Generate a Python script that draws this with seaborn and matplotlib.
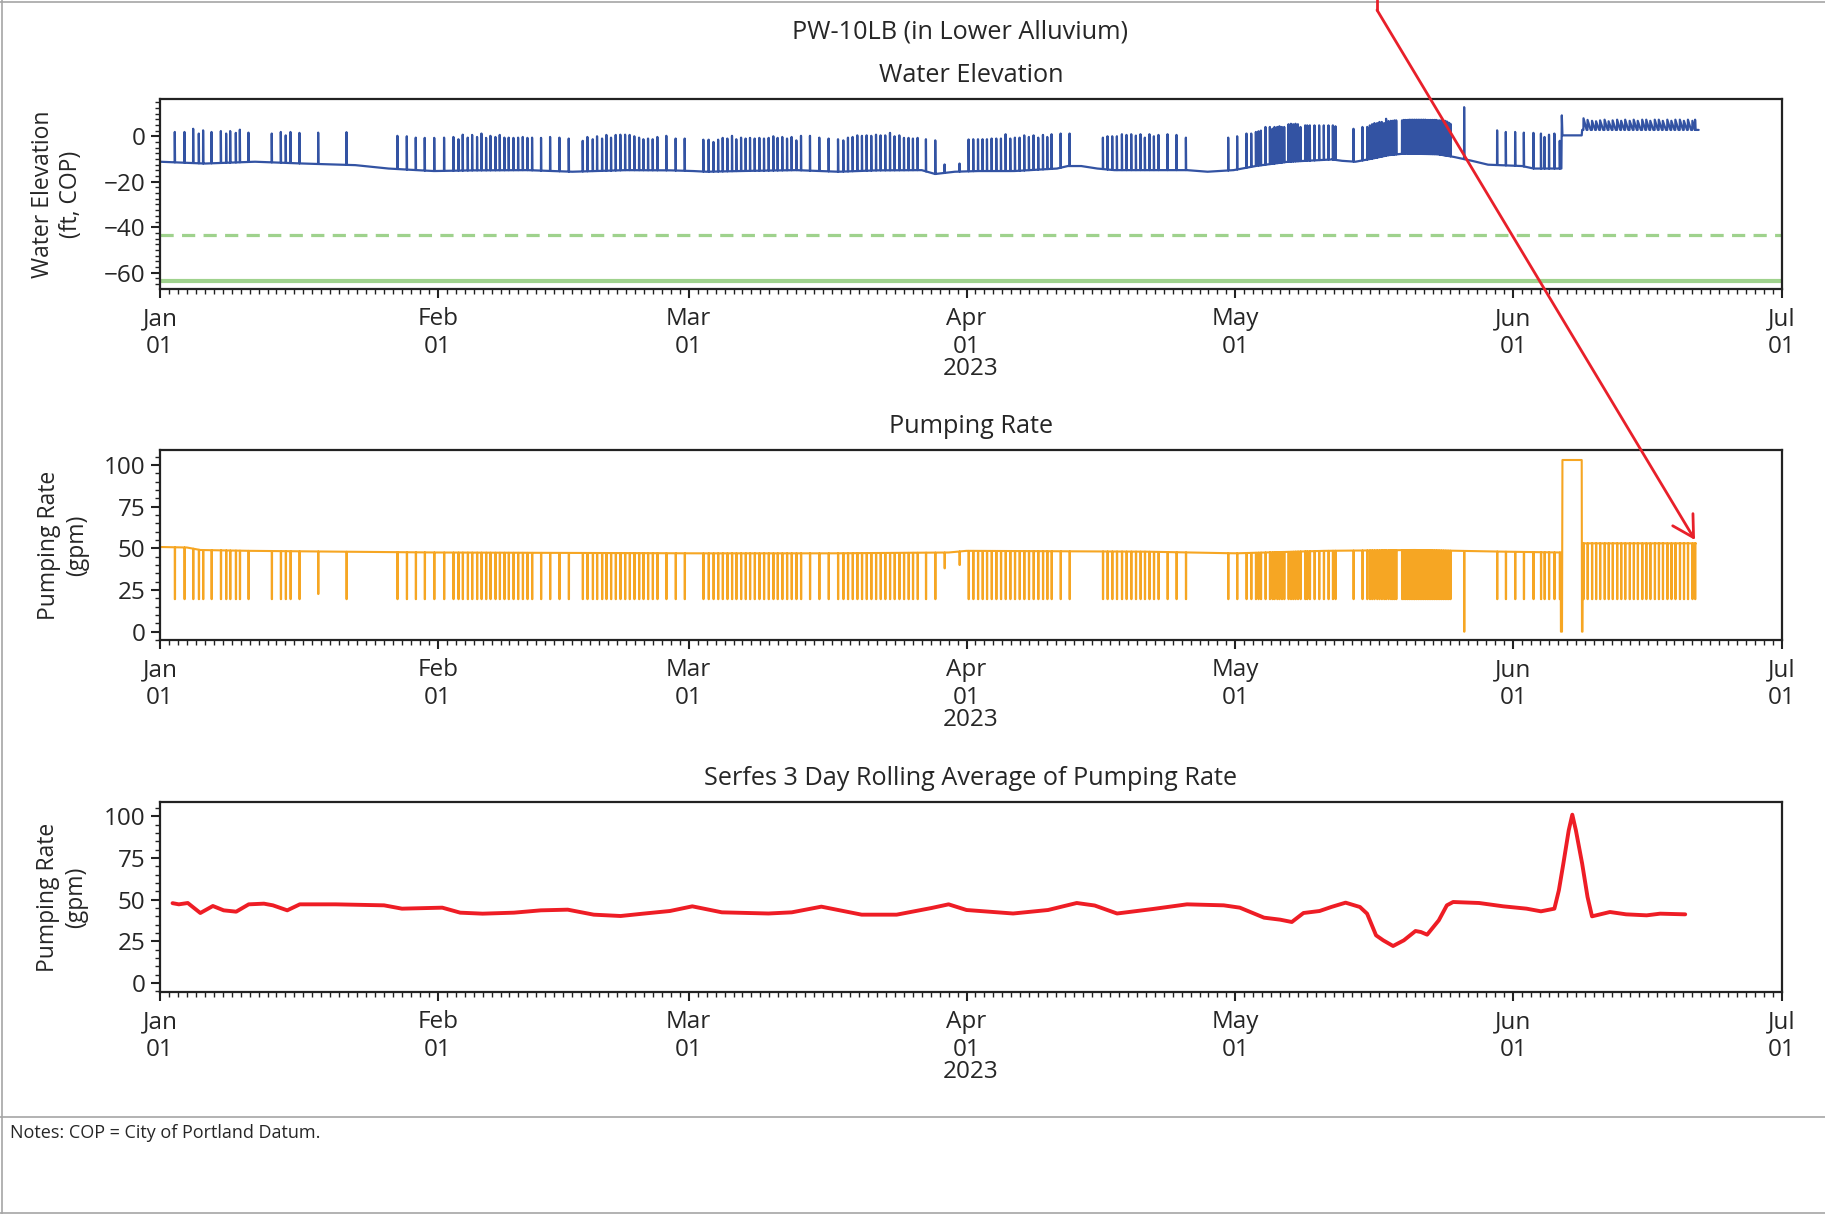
import numpy as np
import pandas as pd
import matplotlib
matplotlib.use("Agg")
import matplotlib.pyplot as plt
import matplotlib.dates as mdates
from matplotlib.ticker import MultipleLocator
from matplotlib.lines import Line2D
from matplotlib.patches import FancyArrowPatch
import seaborn as sns

# ─────────────────────────────────────────────
# DATA (days after 2023-01-01 00:00)
# ─────────────────────────────────────────────
START = pd.Timestamp("2023-01-01")

# pump-off events: water spikes up, pumping rate drops
ev_jan = [1.65, 2.73, 3.70, 4.33, 4.81, 5.75, 6.79, 7.38, 7.83, 8.46, 8.91, 9.87,
          12.47, 13.48, 14.03, 14.56, 15.56, 17.65, 20.81, 26.49, 27.54, 28.54, 29.54, 30.60]
pk_jan = [1.9, 1.9, 3.3, 1.2, 2.6, 1.9, 2.3, 1.2, 2.3, 1.5, 2.9, 1.6,
          1.2, 1.9, 0.4, 1.9, 1.5, 1.6, 1.8, 0.2, 0.0, -0.6, -0.7, -0.7]
lo_jan = [19.5, 19.5, 19.5, 19.5, 19.5, 19.5, 19.5, 19.5, 19.5, 19.5, 19.5, 19.5,
          19.5, 19.5, 19.5, 19.5, 19.5, 22.6, 19.5, 19.5, 19.5, 19.5, 19.5, 19.5]

ev_feb = [31.70, 32.74, 33.30, 33.78, 34.34, 34.83, 35.38, 35.87, 36.39, 36.87,
          37.43, 37.91, 38.43, 38.91, 39.44, 39.96, 40.48, 41.00, 41.52, 42.52,
          43.53, 44.57, 45.61, 47.17, 47.69, 48.29, 48.77, 49.33, 49.81, 50.33,
          50.85, 51.37, 51.90, 52.41, 52.93, 53.46, 53.94, 54.46, 54.98, 55.50,
          56.50, 57.54, 58.55]
pk_feb = [-0.6, -0.3, -1.3, 0.7, -0.6, 0.6, -0.3, 1.2, -0.7, 0.2,
          -0.3, 0.6, -0.6, -0.6, -0.7, -0.6, -0.3, -0.7, -0.6, -0.7,
          -0.3, -0.6, -1.0, -2.0, -0.3, -1.3, 0.0, -1.0, 0.6, -0.6,
          0.6, 0.7, 0.7, 0.6, 0.0, -0.6, -1.3, -1.0, -1.3, -0.3,
          0.2, -1.0, -1.0]

ev_mar = [60.63, 61.22, 61.76, 62.28, 62.79, 63.31, 63.83, 64.31, 64.84, 65.35,
          65.84, 66.36, 66.88, 67.40, 67.92, 68.44, 68.92, 69.44, 69.97, 70.48,
          71.01, 71.53, 72.53, 73.57, 74.61, 75.66, 76.25, 76.77, 77.29, 77.81,
          78.33, 78.85, 79.37, 79.90, 80.41, 80.93, 81.46, 81.97, 82.50, 83.02,
          83.53, 84.02, 84.54, 85.47, 86.51, 87.55, 89.22]
pk_mar = [-1.5, -1.5, -2.5, -1.5, -0.7, -1.0, 0.2, -1.3, -0.6, -1.0,
          -0.7, -1.0, -0.7, -1.0, -0.7, 0.0, -0.7, -0.3, -1.0, -0.3,
          -1.8, 0.2, 0.2, -0.6, -1.0, -1.3, -1.8, -0.6, -0.3, 0.4,
          0.2, 0.4, 0.2, 0.7, 0.4, 0.4, 1.5, 0.0, 0.4, -0.7,
          -0.7, -1.0, -0.7, -1.3, -1.8, -12.4, -12.0]

ev_apr = [90.23, 90.75, 91.28, 91.79, 92.28, 92.80, 93.32, 93.84, 94.36, 94.88,
          95.40, 95.92, 96.44, 96.96, 97.48, 98.00, 98.53, 99.01, 99.49, 100.50,
          101.50, 105.22, 105.73, 106.26, 106.78, 107.34, 107.85, 108.38, 108.90, 109.41,
          109.90, 110.41, 110.91, 111.42, 112.43, 113.43, 114.48, 119.20]
pk_apr = [-1.4, -1.3, -1.3, -1.3, -1.3, -1.0, -1.0, -1.0, 0.9, -1.0,
          -0.6, -0.6, 0.4, -0.3, 0.4, -0.6, 0.6, -0.3, 0.9, 1.2,
          1.2, -0.6, 0.0, 0.0, 0.0, 0.9, 0.6, 0.9, 0.3, 0.9,
          -0.6, 0.9, 0.0, 0.6, 0.9, 0.6, -0.6, -0.6]

ev_may = [120.20, 121.24, 121.77, 122.29, 122.58, 122.85, 123.36, 123.85, 124.14, 124.37,
          124.67, 124.92, 125.19, 125.45, 125.93, 126.20, 126.45, 126.71, 126.98, 127.27,
          127.79, 128.02, 128.31, 128.83, 129.35, 129.87, 130.39, 130.88, 131.17, 133.18,
          134.18, 134.71, 135.01, 135.26, 135.52, 135.82, 136.08, 136.34, 136.60, 136.82,
          137.09, 137.35, 137.55, 137.75, 137.95, 138.60, 138.80, 139.00, 139.20, 139.40,
          139.60, 139.80, 140.00, 140.20, 140.40, 140.60, 140.80, 141.00, 141.20, 141.40,
          141.60, 141.80, 142.00, 142.20, 142.40, 142.60, 142.80, 143.00, 143.20, 143.40,
          143.60, 143.80, 144.00, 145.53]
pk_may = [0.0, 1.2, 1.2, 1.9, 2.2, 2.5, 4.1, 4.1, 3.3, 4.1,
          4.1, 4.4, 4.1, 4.1, 5.3, 5.5, 5.3, 5.5, 5.3, 4.1,
          4.8, 4.8, 4.8, 4.8, 4.8, 4.8, 4.8, 4.8, 4.4, 3.3,
          4.1, 4.1, 4.8, 5.3, 5.8, 5.8, 6.3, 6.3, 5.8, 7.7,
          6.7, 6.8, 6.8, 7.0, 7.0, 7.0, 7.2, 7.2, 7.2, 7.3,
          7.3, 7.3, 7.3, 7.3, 7.3, 7.3, 7.3, 7.3, 7.3, 7.2,
          7.2, 7.2, 7.2, 7.2, 7.2, 7.0, 7.0, 7.0, 6.8, 6.8,
          6.5, 6.0, 5.5, 12.8]
lo_may = [19.5, 19.5, 19.5, 19.5, 19.5, 19.5, 19.5, 19.5, 19.5, 19.5,
          19.5, 19.5, 19.5, 19.5, 19.5, 19.5, 19.5, 19.5, 19.5, 19.5,
          19.5, 19.5, 19.5, 19.5, 19.5, 19.5, 19.5, 19.5, 19.5, 19.5,
          19.5, 19.5, 19.5, 19.5, 19.5, 19.5, 19.5, 19.5, 19.5, 19.5,
          19.5, 19.5, 19.5, 19.5, 19.5, 19.5, 19.5, 19.5, 19.5, 19.5,
          19.5, 19.5, 19.5, 19.5, 19.5, 19.5, 19.5, 19.5, 19.5, 19.5,
          19.5, 19.5, 19.5, 19.5, 19.5, 19.5, 19.5, 19.5, 19.5, 19.5,
          19.5, 19.5, 19.5, 0.0]

ev_jun = [149.21, 150.18, 151.22, 152.19, 153.26, 154.10, 154.50, 155.00, 155.60, 156.20]
pk_jun = [2.6, 1.9, 1.9, 1.6, 1.5, 1.2, -0.3, 0.7, 1.2, -2.0]

# after the restart on Jun 08: water saw-tooths, pump cycles
ev_late = [158.85, 159.30, 159.80, 160.25, 160.70, 161.20, 161.65, 162.10, 162.60, 163.05,
           163.50, 164.00, 164.45, 164.90, 165.40, 165.85, 166.30, 166.80, 167.25, 167.70,
           168.20, 168.65, 169.10, 169.60, 170.05, 170.50, 171.00, 171.30]
pk_late = [7.9, 7.2, 6.8, 6.6, 7.0, 7.3, 6.6, 7.0, 7.3, 6.8,
           7.3, 6.8, 7.3, 6.8, 7.3, 7.3, 6.8, 7.3, 7.3, 6.8,
           7.3, 6.8, 7.3, 7.3, 6.8, 7.3, 6.8, 7.3]

# water elevation between pump-off events (ft, COP)
base_day = [0.0, 5.0, 10.6, 16.0, 21.8, 25.5, 30.5, 35.0, 41.0, 46.0, 52.0, 57.0, 59.5, 61.0,
            66.0, 71.0, 75.7, 80.0, 85.0, 86.5, 88.7, 91.3, 95.3, 100.1, 101.3, 102.8, 104.6,
            106.5, 110.0, 114.6, 116.9, 119.8, 122.4, 125.9, 130.8, 131.9, 133.4, 135.3,
            137.1, 138.9, 142.6, 144.4, 146.4, 148.2, 152.0, 153.3, 156.38,
            156.40, 156.43, 156.50, 158.65, 158.70, 171.70]
base_elev = [-11.2, -12.0, -11.2, -12.0, -12.7, -14.2, -15.3, -15.0, -14.9, -15.6, -14.9, -15.0,
             -15.3, -15.6, -15.2, -14.9, -15.6, -15.0, -14.9, -16.6, -15.6, -15.3, -15.3, -14.2,
             -13.1, -13.1, -14.2, -14.9, -14.9, -14.9, -15.6, -14.9, -13.0, -11.2, -10.2, -10.8,
             -11.2, -9.8, -8.3, -7.6, -7.9, -9.1, -10.8, -12.5, -13.1, -14.2, -14.2,
             -3.0, 9.2, 0.4, 0.4, 2.8, 2.8]

# pumping rate between events (gpm)
rate_day = [0.0, 3.0, 4.5, 10.0, 20.0, 31.0, 60.0, 75.0, 88.0, 90.0, 110.0, 120.0, 130.0,
            140.0, 150.0, 156.30, 156.33, 156.45, 156.50, 158.65, 158.68, 158.74, 158.78, 171.40]
rate_gpm = [50.8, 50.5, 49.0, 48.5, 48.0, 47.5, 47.0, 47.0, 47.5, 48.5, 48.0, 47.0, 48.5,
            49.0, 48.0, 47.5, 0.0, 0.0, 103.0, 103.0, 0.0, 0.0, 53.0, 53.0]

# Serfes 3-day rolling average (gpm)
roll_day = [1.4, 2.1, 3.1, 4.5, 5.9, 7.1, 8.5, 9.9, 11.6, 12.6, 14.2, 15.6, 19.6, 25.0, 27.0,
            31.5, 33.5, 36.0, 39.5, 42.5, 45.5, 48.4, 51.4, 53.9, 56.9, 59.4, 62.7, 67.9, 70.5,
            73.8, 78.3, 82.2, 86.1, 88.0, 90.0, 95.2, 99.1, 102.3, 104.3, 106.8, 110.8, 114.6,
            118.7, 120.5, 123.2, 125.0, 126.3, 127.6, 129.4, 130.7, 132.3, 133.9, 134.7, 135.7,
            136.5, 137.6, 138.8, 140.1, 140.7, 141.4, 142.7, 143.6, 144.3, 147.2, 149.9, 152.5,
            154.1, 155.6, 156.1, 156.6, 157.2, 157.6, 158.0, 158.7, 159.3, 159.8, 161.8, 163.6,
            165.9, 167.4, 170.2]
roll_gpm = [47.9, 47.2, 48.0, 42.0, 46.2, 43.6, 42.8, 47.2, 47.6, 46.6, 43.6, 47.2, 47.2, 46.6,
            44.6, 45.2, 42.2, 41.6, 42.2, 43.6, 44.0, 41.0, 40.2, 41.6, 43.2, 46.0, 42.4, 41.7,
            42.4, 45.8, 41.0, 41.0, 45.0, 47.2, 43.8, 41.7, 43.8, 48.0, 46.5, 41.7, 44.4, 47.2,
            46.6, 45.2, 39.2, 38.0, 36.6, 42.0, 43.2, 45.6, 48.2, 45.6, 41.6, 28.6,
            25.6, 22.2, 25.6, 31.2, 30.6, 29.0, 37.6, 46.6, 48.6, 48.0, 46.0, 44.6,
            43.0, 44.6, 55.6, 71.6, 91.6, 101.0, 91.6, 71.6, 51.6, 40.0, 42.6, 41.2,
            40.6, 41.6, 41.2]

WL_DASH = -43.6
WL_SOLID = -63.5

# ─────────────────────────────────────────────
# BUILD SERIES
# ─────────────────────────────────────────────
events = ev_jan + ev_feb + ev_mar + ev_apr + ev_may + ev_jun + ev_late
peaks = pk_jan + pk_feb + pk_mar + pk_apr + pk_may + pk_jun + pk_late
lows = (lo_jan + [19.5] * len(ev_feb) + [19.5] * (len(ev_mar) - 2) + [38.0, 40.0]
        + [19.5] * len(ev_apr) + lo_may + [19.5] * len(ev_jun) + [19.5] * len(ev_late))

wl = list(zip(base_day, base_elev))
for t, p in zip(events, peaks):
    tail = 0.35 if t > 158.7 else 0.03
    wl += [(t - 0.01, np.interp(t - 0.01, base_day, base_elev)), (t, p),
           (t + tail, np.interp(t + tail, base_day, base_elev))]
wl.sort()
wl = pd.DataFrame(wl, columns=["day", "elev"])
wl["date"] = START + pd.to_timedelta(wl["day"], unit="D")

pr = list(zip(rate_day, rate_gpm))
for t, lo in zip(events, lows):
    pr += [(t - 0.005, np.interp(t - 0.005, rate_day, rate_gpm)), (t, lo), (t + 0.03, lo),
           (t + 0.035, np.interp(t + 0.035, rate_day, rate_gpm))]
pr.sort()
pr = pd.DataFrame(pr, columns=["day", "rate"])
pr["date"] = START + pd.to_timedelta(pr["day"], unit="D")

ra = pd.DataFrame({"date": START + pd.to_timedelta(roll_day, unit="D"), "rate": roll_gpm})

# ─────────────────────────────────────────────
# FIGURE
# ─────────────────────────────────────────────
sns.set_style("ticks")
plt.rcParams["font.family"] = ["Open Sans", "DejaVu Sans"]
plt.rcParams["lines.scale_dashes"] = False
FS_TICK = 17.5
FS_TITLE = 18.2
FS_YLAB = 16.5

W, H = 1825, 1214
fig = plt.figure(figsize=(W / 100, H / 100), dpi=100)


def px_axes(top, bottom, left=160, right=1782):
    return fig.add_axes([left / W, 1 - bottom / H, (right - left) / W, (bottom - top) / H])


ax1 = px_axes(99, 289)
ax2 = px_axes(450, 640)
ax3 = px_axes(802, 992)

BLUE = "#3353a3"
ORANGE = "#f6a623"
RED = "#ee1d25"
GREEN = "#9fd28d"

sns.lineplot(data=wl, x="date", y="elev", ax=ax1, color=BLUE, linewidth=1.6,
             estimator=None, sort=False)
ax1.axhline(WL_DASH, color=GREEN, linewidth=2.3, linestyle=(0, (9.5, 6)))
ax1.axhline(WL_SOLID, color=GREEN, linewidth=3.0)
ax1.set_ylim(-67.2, 16.4)
ax1.yaxis.set_major_locator(MultipleLocator(20))
ax1.yaxis.set_minor_locator(MultipleLocator(2.5))

sns.lineplot(data=pr, x="date", y="rate", ax=ax2, color=ORANGE, linewidth=1.5,
             estimator=None, sort=False)
ax2.set_ylim(-5, 109)

sns.lineplot(data=ra, x="date", y="rate", ax=ax3, color=RED, linewidth=2.8,
             estimator=None, sort=False)
ax3.set_ylim(-5.4, 108.6)

titles = ["Water Elevation", "Pumping Rate", "Serfes 3 Day Rolling Average of Pumping Rate"]
ylabels = ["Water Elevation\n(ft, COP)", "Pumping Rate\n(gpm)", "Pumping Rate\n(gpm)"]
ylab_x = [-0.0475, -0.0438, -0.0444]
for i, ax in enumerate([ax1, ax2, ax3]):
    if i > 0:
        ax.yaxis.set_major_locator(MultipleLocator(25))
        ax.yaxis.set_minor_locator(MultipleLocator(5))
    ax.set_xlim(pd.Timestamp("2023-01-01"), pd.Timestamp("2023-07-01"))
    ax.xaxis.set_major_locator(mdates.MonthLocator())
    ax.xaxis.set_minor_locator(mdates.DayLocator())
    ax.xaxis.set_major_formatter(mdates.DateFormatter("%b\n%d"))
    ax.tick_params(which="major", length=6.5, width=1.5, labelsize=FS_TICK, pad=4,
                   color="#222222")
    ax.tick_params(axis="x", which="major", pad=6.5)
    ax.tick_params(which="minor", length=3.5, width=1.0, color="#222222")
    for s in ax.spines.values():
        s.set_linewidth(1.6)
        s.set_color("#222222")
    ax.set_ylabel(ylabels[i], fontsize=FS_YLAB)
    ax.yaxis.set_label_coords(ylab_x[i], 0.5)
    ax.set_xlabel("2023", fontsize=FS_TICK)
    ax.xaxis.label.set_va("center")
    ax.xaxis.set_label_coords(0.5, -80 / 190)
    ax.text(0.5, 1 + 23.5 / 190, titles[i], transform=ax.transAxes, ha="center",
            va="center", fontsize=FS_TITLE)

fig.text(960 / W, 1 - 32 / H, "PW-10LB (in Lower Alluvium)", ha="center", va="center",
         fontsize=FS_TITLE)
fig.text(10 / W, 1 - 1133 / H, "Notes: COP = City of Portland Datum.", ha="left",
         va="center", fontsize=13)

# page frame
FRAME = "#a6a6a6"
for xs, ys in [([0, W], [1117, 1117]), ([2, 2], [0, H]), ([0, W], [2, 2]), ([0, W], [1212.5, 1212.5])]:
    fig.add_artist(Line2D([x / W for x in xs], [1 - y / H for y in ys],
                          transform=fig.transFigure, color=FRAME, linewidth=1.2))

# red call-out arrow
fig.add_artist(Line2D([1377 / W, 1377 / W], [1.0, 1 - 10 / H], transform=fig.transFigure,
                      color="#e8202a", linewidth=2.0))
fig.add_artist(FancyArrowPatch((1377 / W, 1 - 10 / H), (1695 / W, 1 - 540 / H),
                               transform=fig.transFigure, color="#e8202a", linewidth=2.0,
                               arrowstyle="->,head_length=15,head_width=8.5",
                               shrinkA=0, shrinkB=0))

fig.savefig("out.png", dpi=100)
